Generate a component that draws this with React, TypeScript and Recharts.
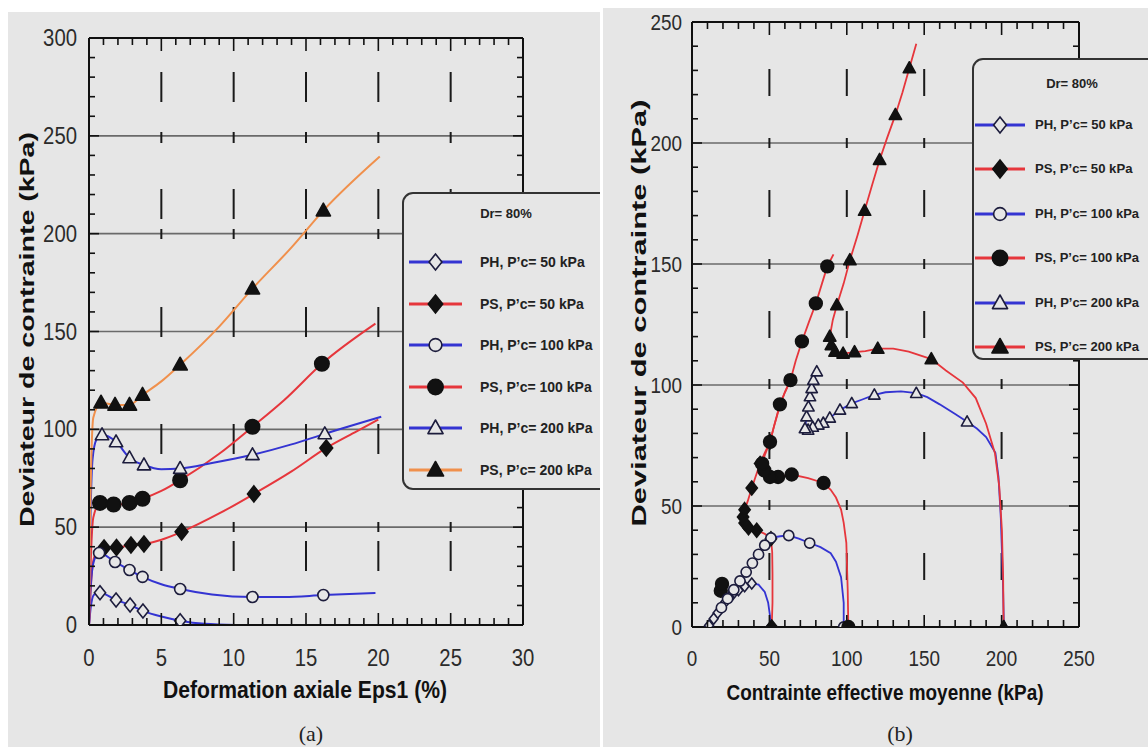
import React from 'react';
import {
  ComposedChart,
  Line,
  Scatter,
  XAxis,
  YAxis,
  CartesianGrid,
  Legend,
} from 'recharts';

// [x, y, marker?]
type Pt = [number, number, number?];

// ---------- (a) deviateur / deformation axiale ----------
const A_PH50: Pt[] = [[0, 0], [0.12, 9], [0.35, 15.5], [0.76, 16.5, 1], [1.87, 12.8, 1], [2.84, 10.2, 1], [3.73, 7.2, 1], [5, 4.3], [6.3, 2.2, 1], [8, 0.6], [10.2, 0]];
const A_PS50: Pt[] = [[0, 0], [0.1, 16], [0.3, 33], [0.6, 38], [1.04, 39.4, 1], [1.9, 39.6, 1], [2.9, 40.9, 1], [3.8, 41.4, 1], [5, 43.6], [6.4, 47.6, 1], [9, 57], [11.4, 67, 1], [14, 78.5], [16.4, 90.5, 1], [18.5, 99], [20, 105]];
const A_PH100: Pt[] = [[0, 0], [0.12, 20], [0.35, 33], [0.7, 36.8, 1], [1.8, 32.2, 1], [2.8, 28.1, 1], [3.7, 24.6, 1], [5, 20.8], [6.3, 18.4, 1], [8.5, 15.6], [11.3, 14.3, 1], [13.5, 14.3], [16.2, 15.3, 1], [19.8, 16.4]];
const A_PS100: Pt[] = [[0, 0], [0.1, 28], [0.3, 55], [0.76, 62.4, 1], [1.7, 61.6, 1], [2.8, 62.4, 1], [3.7, 64.5, 1], [5, 68.5], [6.3, 74, 1], [9, 87.5], [11.3, 101.3, 1], [13.5, 115], [16.1, 133.5, 1], [19.8, 154]];
const A_PH200: Pt[] = [[0, 0], [0.08, 45], [0.25, 85], [0.5, 94.5], [0.9, 97.2, 1], [1.87, 93.6, 1], [2.8, 85.4, 1], [3.8, 81.8, 1], [5, 79.6], [6.3, 80, 1], [8.5, 82.8], [11.3, 87, 1], [14, 92.3], [16.3, 97.7, 1], [20.2, 106.4]];
const A_PS200: Pt[] = [[0, 0], [0.08, 55], [0.3, 106], [0.83, 113.6, 1], [1.8, 112.5, 1], [2.8, 112.5, 1], [3.7, 117.6, 1], [5, 124.5], [6.3, 133, 1], [9, 152.5], [11.3, 171.9, 1], [14, 193], [16.2, 211.8, 1], [20.1, 239.4]];

const A_X_TICKS = [0, 1, 2, 3, 4, 5, 6, 7, 8, 9, 10, 11, 12, 13, 14, 15, 16, 17, 18, 19, 20, 21, 22, 23, 24, 25, 26, 27, 28, 29, 30];
const A_Y_TICKS = [0, 10, 20, 30, 40, 50, 60, 70, 80, 90, 100, 110, 120, 130, 140, 150, 160, 170, 180, 190, 200, 210, 220, 230, 240, 250, 260, 270, 280, 290, 300];
const A_X_LABELS = [0, 5, 10, 15, 20, 25, 30];
const A_Y_LABELS = [0, 50, 100, 150, 200, 250, 300];
const A_H_GRID = [50, 100, 150, 200, 250];
const A_V_GRID = [5, 10, 15, 20, 25];

// ---------- (b) deviateur / contrainte effective moyenne ----------
const B_PH50: Pt[] = [[50.8, 0, 1], [50.3, 5], [49.2, 10], [47, 14.5], [43, 17.5], [38.6, 18, 1], [34, 16.8, 1], [30, 15.2, 1], [26.5, 13.6, 1], [24, 12.4, 1], [21.5, 10.3, 1], [19, 8, 1], [16.5, 5.8, 1], [14, 3.4, 1], [11, 0.6, 1]];
const B_PS50: Pt[] = [[51.5, 0, 1], [52, 10], [52, 22], [51.8, 31], [51, 36.5, 1], [47, 38.5], [41.8, 40, 1], [36.5, 41, 1], [34, 43, 1], [33, 45.5, 1], [34, 48.5, 1], [36, 52], [38.6, 57.4, 1], [41, 62], [44, 67.6, 1], [47, 72], [50.4, 76.5, 1], [53, 83], [56.8, 91.5], [60, 97], [63.6, 102]];
const B_PH100: Pt[] = [[98, 0, 1], [98, 10], [96.3, 20.6], [93, 27], [89.6, 30.5], [83, 33], [76, 34.7, 1], [69, 36.5], [62.5, 37.8, 1], [57, 37.5], [51, 36.8, 1], [47, 33.8, 1], [43, 30, 1], [39, 26.4, 1], [35, 22.7, 1], [31, 19, 1], [27, 15.4, 1], [23, 11.7, 1], [19, 8, 1]];
const B_PS100: Pt[] = [[101, 0, 1], [100.6, 15], [99.7, 34.8], [98, 43], [96.3, 48.5], [93, 53.5], [89.6, 56.7], [85, 59.5, 1], [75, 61.5], [64.4, 63, 1], [55.6, 62, 1], [50.4, 62, 1], [46.7, 64.7, 1], [45.3, 67.5, 1], [47, 71], [50.4, 76.5, 1], [53, 83], [56.8, 92, 1], [60, 97], [63.6, 102, 1], [67, 110], [71, 118, 1], [75.5, 126], [80, 133.7, 1], [84, 142], [87.4, 149, 1], [91.4, 154]];
const B_PH200: Pt[] = [[201.5, 0, 1], [200.8, 20], [199.5, 45], [198, 62], [196, 72], [190, 78.5], [184, 82], [177.7, 84.8, 1], [170, 88], [160, 92], [152, 95], [144.9, 96.6, 1], [135, 97.4], [125, 97], [117.8, 95.9, 1], [110, 94], [103.2, 92.4, 1], [95.6, 89.7, 1], [89, 86.4, 1], [84.8, 84.3, 1], [81.6, 83.5, 1], [78, 82.6, 1], [75, 81.4, 1], [73, 82, 1], [74, 86.9, 1], [75.2, 91, 1], [76.2, 95.2, 1], [77.3, 98.6, 1], [78.4, 102, 1], [80.6, 105.5, 1]];
const B_PS200: Pt[] = [[201.3, 0, 1], [201, 20], [200.2, 40], [198.5, 58], [195.7, 71.8], [190, 84], [183.3, 94.6], [175, 101], [164, 106], [154.6, 110.7, 1], [140, 113.8], [130, 115], [120, 115, 1], [112, 114], [105, 113.6, 1], [97.6, 113, 1], [92.4, 113.8, 1], [90, 116.5, 1], [89, 120, 1], [91, 127], [93.6, 133, 1], [98, 142], [102, 151.6, 1], [107, 162], [111.5, 172, 1], [116.5, 183], [121.2, 193, 1], [126, 202], [131.4, 211.6, 1], [136, 221], [140.4, 230.9, 1], [144.9, 241]];
// loose filled points near the origin line
const B_PS_LOW: Pt[] = [[18.6, 15], [19.4, 17.8]];

const B_X_TICKS = [0, 10, 20, 30, 40, 50, 60, 70, 80, 90, 100, 110, 120, 130, 140, 150, 160, 170, 180, 190, 200, 210, 220, 230, 240, 250];
const B_Y_TICKS = [0, 10, 20, 30, 40, 50, 60, 70, 80, 90, 100, 110, 120, 130, 140, 150, 160, 170, 180, 190, 200, 210, 220, 230, 240, 250];
const B_LABELS = [0, 50, 100, 150, 200, 250];
const B_H_GRID = [50, 100, 150, 200];
const B_V_GRID = [50, 100, 150, 200];

const SERIES_NAMES = [
  'PH, P’c= 50 kPa',
  'PS, P’c= 50 kPa',
  'PH, P’c= 100 kPa',
  'PS, P’c= 100 kPa',
  'PH, P’c= 200 kPa',
  'PS, P’c= 200 kPa',
];
const LEGEND_TITLE = 'Dr= 80%';

// ---------- styles ----------
const BG = '#e6e6e6';
const INK = '#111';
const OPEN_INK = '#1c1c3c';
const BLUE = '#3434d2';
const RED = '#e6363c';
const ORANGE = '#f0904c';
const TICK_FONT = "'Liberation Sans', Arial, sans-serif";
const BOLD_FONT = "'Liberation Sans', Arial, sans-serif";

type Shape = 'diamond' | 'circle' | 'triangle';
const SHAPES: Shape[] = ['diamond', 'diamond', 'circle', 'circle', 'triangle', 'triangle'];
const FILLED = [false, true, false, true, false, true];

const toRows = (pts: Pt[]) => pts.map(([x, y, m]) => ({ x, y, m: !!m }));

function Marker({ cx, cy, shape, filled, s }: { cx: number; cy: number; shape: Shape; filled: boolean; s: number }) {
  if (cx == null || cy == null || isNaN(cx) || isNaN(cy)) return null;
  const fill = filled ? INK : BG;
  const stroke = filled ? INK : OPEN_INK;
  const sw = 1.6;
  if (shape === 'diamond') {
    const w = s * 0.8;
    return <polygon points={`${cx},${cy - s} ${cx + w},${cy} ${cx},${cy + s} ${cx - w},${cy}`} fill={fill} stroke={stroke} strokeWidth={sw} />;
  }
  if (shape === 'circle') {
    return <circle cx={cx} cy={cy} r={s * 0.85} fill={fill} stroke={stroke} strokeWidth={sw} />;
  }
  return (
    <polygon
      points={`${cx},${cy - s} ${cx + s * 0.95},${cy + s * 0.7} ${cx - s * 0.95},${cy + s * 0.7}`}
      fill={fill}
      stroke={stroke}
      strokeWidth={sw}
      strokeLinejoin="round"
    />
  );
}

function FrameTick(props: any) {
  const { x, y, payload, side, majors, labels, majorLen, minorLen, gap, fontSize, charW } = props;
  const v = payload?.value;
  const len = majors.includes(v) ? majorLen : minorLen;
  const showLabel = labels && labels.includes(v);
  const ln = { stroke: INK, strokeWidth: 1.6 };
  const txt = {
    fontSize,
    fontFamily: TICK_FONT,
    fill: '#2b2b2b',
    textLength: String(v).length * (charW || 11),
    lengthAdjust: 'spacingAndGlyphs',
  };
  if (side === 'bottom') {
    return (
      <g>
        <line x1={x} y1={y} x2={x} y2={y - len} {...ln} />
        {showLabel && (
          <text x={x} y={y + gap} textAnchor="middle" dominantBaseline="central" {...txt}>
            {v}
          </text>
        )}
      </g>
    );
  }
  if (side === 'top') return <line x1={x} y1={y} x2={x} y2={y + len} {...ln} />;
  if (side === 'left') {
    return (
      <g>
        <line x1={x} y1={y} x2={x + len} y2={y} {...ln} />
        {showLabel && (
          <text x={x - gap} y={y} textAnchor="end" dominantBaseline="central" {...txt}>
            {v}
          </text>
        )}
      </g>
    );
  }
  return <line x1={x} y1={y} x2={x - len} y2={y} {...ln} />;
}

function YTitle({ px, py, text, len, fontSize }: any) {
  return (
    <text
      x={px}
      y={py}
      transform={`rotate(-90 ${px} ${py})`}
      textAnchor="middle"
      dominantBaseline="central"
      fontSize={fontSize}
      fontWeight="bold"
      fontFamily={BOLD_FONT}
      textLength={len}
      lengthAdjust="spacingAndGlyphs"
      fill="#111"
    >
      {text}
    </text>
  );
}

function XTitle({ px, py, text, len, fontSize, tag, tx, ty }: any) {
  return (
    <g>
      <text
        x={px}
        y={py}
        textAnchor="middle"
        dominantBaseline="central"
        fontSize={fontSize}
        fontWeight="bold"
        fontFamily={BOLD_FONT}
        textLength={len}
        lengthAdjust="spacingAndGlyphs"
        fill="#111"
      >
        {text}
      </text>
      <text x={tx} y={ty} textAnchor="middle" dominantBaseline="central" fontSize={22} fontFamily="'Liberation Serif', 'DejaVu Serif', serif" fill="#222">
        {tag}
      </text>
    </g>
  );
}

function LegendBox({ w, h, colors, sizes, titleY, rowY, lineX0, lineX1, textX, fontSize, textLen }: any) {
  const mx = (lineX0 + lineX1) / 2;
  return (
    <div style={{ width: w, height: h, boxSizing: 'border-box', border: '2px solid #333', borderRadius: 11, background: BG }}>
      <svg width={w - 4} height={h - 4} style={{ display: 'block' }}>
        <text x={(w - 4) / 2} y={titleY} textAnchor="middle" dominantBaseline="central" fontSize={13} fontWeight="bold" fontFamily={BOLD_FONT} fill="#222">
          {LEGEND_TITLE}
        </text>
        {SERIES_NAMES.map((name, i) => (
          <g key={name}>
            <line x1={lineX0} x2={lineX1} y1={rowY[i]} y2={rowY[i]} stroke={colors[i]} strokeWidth={3} />
            <Marker cx={mx} cy={rowY[i]} shape={SHAPES[i]} filled={FILLED[i]} s={sizes[i]} />
            <text
              x={textX}
              y={rowY[i]}
              dominantBaseline="central"
              fontSize={fontSize}
              fontWeight="bold"
              fontFamily={BOLD_FONT}
              fill="#222"
              textLength={textLen ? textLen * name.length : undefined}
              lengthAdjust="spacingAndGlyphs"
            >
              {name}
            </text>
          </g>
        ))}
      </svg>
    </div>
  );
}

function Panel({ cfg }: { cfg: any }) {
  const { left, top, W, H, plot, xDomain, yDomain, xTicks, yTicks, xLabels, yLabels, xMajors, yMajors, hGrid, vGrid, dash, series, colors, sizes, curve, lineW, extra, titles, legend, tickFont, xGap, yGap, charW } = cfg;
  const margin = { left: plot.l - 40, right: W - plot.r - 10, top: plot.t - 10, bottom: H - plot.b - 30 };
  const common = { type: 'number' as const, allowDataOverflow: true, tickSize: 0, tickMargin: 0, tickLine: false, interval: 0 as const, axisLine: { stroke: INK, strokeWidth: 2 } };
  return (
    <div style={{ position: 'absolute', left, top, width: W, height: H, background: BG, overflow: 'hidden' }}>
      <ComposedChart width={W} height={H} margin={margin}>
        <CartesianGrid xAxisId="b" yAxisId="l" vertical={false} horizontalValues={hGrid} stroke="#6a6a6a" strokeWidth={1.6} />
        <CartesianGrid xAxisId="b" yAxisId="l" horizontal={false} verticalValues={vGrid} stroke="#1a1a1a" strokeWidth={2} strokeDasharray={dash} />
        <XAxis
          {...common}
          xAxisId="b"
          dataKey="x"
          orientation="bottom"
          height={30}
          domain={xDomain}
          ticks={xTicks}
          tick={<FrameTick side="bottom" majors={xMajors} labels={xLabels} majorLen={12} minorLen={7} gap={xGap} fontSize={tickFont} charW={charW} />}
          label={<XTitle {...titles.x} />}
        />
        <XAxis
          {...common}
          xAxisId="t"
          dataKey="x"
          orientation="top"
          height={10}
          domain={xDomain}
          ticks={xTicks}
          tick={<FrameTick side="top" majors={xMajors} labels={null} majorLen={13} minorLen={7} />}
        />
        <YAxis
          {...common}
          yAxisId="l"
          dataKey="y"
          orientation="left"
          width={40}
          domain={yDomain}
          ticks={yTicks}
          tick={<FrameTick side="left" majors={yMajors} labels={yLabels} majorLen={10} minorLen={6} gap={yGap} fontSize={tickFont} charW={charW} />}
          label={<YTitle {...titles.y} />}
        />
        <YAxis
          {...common}
          yAxisId="r"
          dataKey="y"
          orientation="right"
          width={10}
          domain={yDomain}
          ticks={yTicks}
          tick={<FrameTick side="right" majors={yMajors} labels={null} majorLen={10} minorLen={6} />}
        />
        {series.map((pts: Pt[], i: number) => (
          <Line
            key={SERIES_NAMES[i]}
            name={SERIES_NAMES[i]}
            data={toRows(pts)}
            dataKey="y"
            xAxisId="b"
            yAxisId="l"
            type={curve}
            stroke={colors[i]}
            strokeWidth={lineW}
            activeDot={false}
            isAnimationActive={false}
            dot={(p: any) =>
              p.payload && p.payload.m ? (
                <Marker key={`m-${i}-${p.index}`} cx={p.cx} cy={p.cy} shape={SHAPES[i]} filled={FILLED[i]} s={sizes[i]} />
              ) : (
                <g key={`n-${i}-${p.index}`} />
              )
            }
          />
        ))}
        {extra && (
          <Scatter
            data={toRows(extra)}
            dataKey="y"
            xAxisId="b"
            yAxisId="l"
            legendType="none"
            isAnimationActive={false}
            shape={(p: any) => <Marker cx={p.cx} cy={p.cy} shape="circle" filled s={sizes[3]} />}
          />
        )}
        <Legend
          layout="vertical"
          align="center"
          verticalAlign="middle"
          wrapperStyle={{ left: legend.left, top: legend.top, width: legend.w, height: legend.h }}
          content={() => <LegendBox {...legend} colors={colors} sizes={legend.sizes} />}
        />
      </ComposedChart>
    </div>
  );
}

const PANEL_A = {
  left: 8, top: 12, W: 592, H: 735,
  plot: { l: 81, t: 26, r: 515, b: 613 },
  xDomain: [0, 30], yDomain: [0, 300],
  xTicks: A_X_TICKS, yTicks: A_Y_TICKS, xLabels: A_X_LABELS, yLabels: A_Y_LABELS,
  xMajors: A_X_LABELS, yMajors: A_Y_LABELS, hGrid: A_H_GRID, vGrid: A_V_GRID,
  dash: '0 34 30 30 11 46 30 10 10 68 30 87 30 68 10 9 30 60',
  series: [A_PH50, A_PS50, A_PH100, A_PS100, A_PH200, A_PS200],
  colors: [BLUE, RED, BLUE, RED, BLUE, ORANGE],
  sizes: [7, 8, 6.5, 8.5, 7, 7.5],
  curve: 'monotone', lineW: 2, extra: null,
  tickFont: 23, xGap: 33, yGap: 12, charW: 11.3,
  titles: {
    x: { px: 297, py: 677, text: 'Deformation axiale Eps1 (%)', len: 284, fontSize: 24, tag: '(a)', tx: 303, ty: 721 },
    y: { px: 18, py: 317.5, text: 'Deviateur de contrainte (kPa)', len: 395, fontSize: 21 },
  },
  legend: { left: 394, top: 180, w: 208, h: 298, titleY: 19, rowY: [68, 110, 151, 193, 234, 276], lineX0: 5, lineX1: 58, textX: 76, fontSize: 14, sizes: [8, 9, 7.5, 9, 8, 8.5] },
};

const PANEL_B = {
  left: 603, top: 8, W: 545, H: 739,
  plot: { l: 89, t: 14, r: 476, b: 619 },
  xDomain: [0, 250], yDomain: [0, 250],
  xTicks: B_X_TICKS, yTicks: B_Y_TICKS, xLabels: B_LABELS, yLabels: B_LABELS,
  xMajors: B_LABELS, yMajors: B_LABELS, hGrid: B_H_GRID, vGrid: B_V_GRID,
  dash: '0 47 27 42 10 42 27 42 10 42 27 41 10 43 27 41 10 43 27 60',
  series: [B_PH50, B_PS50, B_PH100, B_PS100, B_PH200, B_PS200],
  colors: [BLUE, RED, BLUE, RED, BLUE, RED],
  sizes: [5.5, 7, 6, 7.5, 6, 6.5],
  curve: 'linear', lineW: 1.8, extra: B_PS_LOW,
  tickFont: 22, xGap: 31, yGap: 10, charW: 10.5,
  titles: {
    x: { px: 282, py: 684, text: 'Contrainte effective moyenne (kPa)', len: 317, fontSize: 22, tag: '(b)', tx: 297, ty: 725 },
    y: { px: 35, py: 305, text: 'Deviateur de contrainte (kPa)', len: 427, fontSize: 21 },
  },
  legend: { left: 369, top: 50, w: 200, h: 302, titleY: 23, rowY: [65, 109, 154, 198, 243, 287], lineX0: 1, lineX1: 51, textX: 61, fontSize: 12.5, textLen: 6.5, sizes: [8, 9, 7.5, 9, 8, 8.5] },
};

export default function App() {
  return (
    <div style={{ position: 'absolute', left: 0, top: 0, width: 1148, height: 747, background: '#fff', overflow: 'hidden' }}>
      <Panel cfg={PANEL_A} />
      <Panel cfg={PANEL_B} />
    </div>
  );
}
